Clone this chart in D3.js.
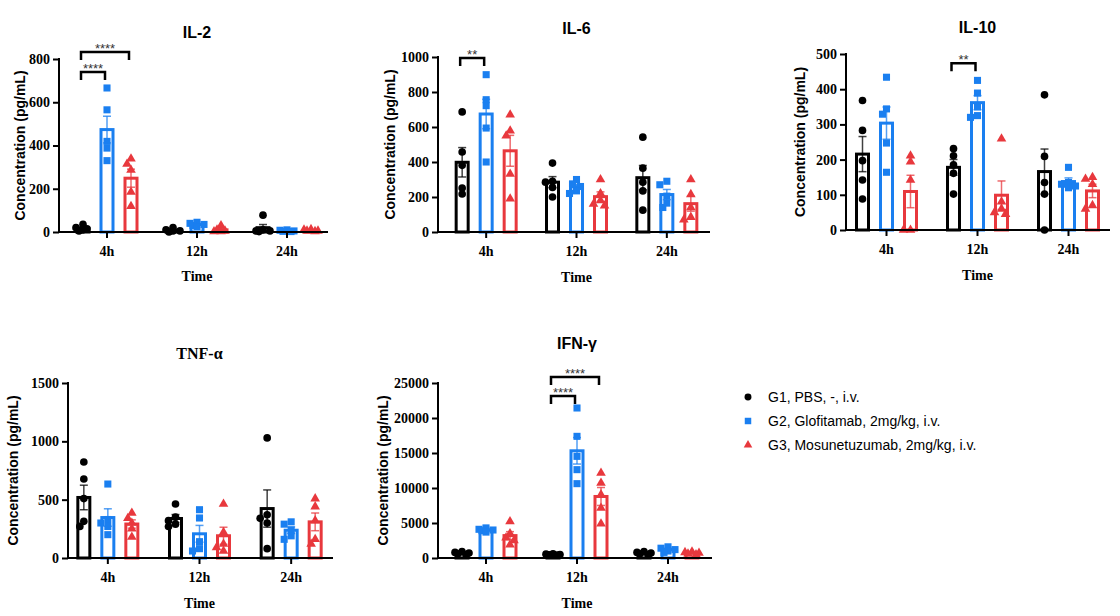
<!DOCTYPE html>
<html>
<head>
<meta charset="utf-8">
<script src="https://cdn.jsdelivr.net/npm/d3@7"></script>
<style>
  body { margin: 0; background: #fff; }
  svg { display: block; }
</style>
</head>
<body>
<div id="chart"></div>
<script>
"use strict";

//
/* Data */
//
var TIMES = ["4h", "12h", "24h"];
var GROUPS = ["G1, PBS, -, i.v.", "G2, Glofitamab, 2mg/kg, i.v.", "G3, Mosunetuzumab, 2mg/kg, i.v."];
var COLORS = ["#000000", "#1a7ff0", "#e8383d"];

// values[time][group] = 5 animals
var IL2_VALUES = [
    [[35, 20, 15, 10, 5], [666, 565, 419, 388, 330], [339, 314, 287, 185, 119]],
    [[20, 10, 5, 5, 0], [45, 40, 35, 30, 25], [30, 10, 5, 3, 2]],
    [[78, 10, 5, 5, 2], [10, 8, 5, 3, 2], [12, 10, 5, 5, 3]]
];
var IL6_VALUES = [
    [[686, 457, 381, 251, 217], [899, 756, 722, 594, 400], [670, 579, 550, 331, 190]],
    [[394, 290, 285, 255, 200], [300, 275, 260, 235, 220], [300, 220, 180, 160, 150]],
    [[542, 365, 285, 235, 125], [290, 270, 205, 165, 140], [300, 215, 140, 85, 70]]
];
var IL10_VALUES = [
    [[368, 283, 197, 142, 88], [434, 344, 329, 247, 164], [211, 194, 142, 0, 0]],
    [[231, 211, 185, 161, 102], [425, 389, 350, 325, 320], [259, 80, 60, 50, 45]],
    [[384, 209, 135, 102, 0], [178, 135, 130, 125, 120], [150, 145, 130, 70, 60]]
];
var TNF_VALUES = [
    [[823, 677, 509, 314, 271], [634, 330, 300, 270, 200], [386, 340, 300, 250, 180]],
    [[463, 350, 320, 290, 270], [414, 343, 140, 80, 60], [463, 220, 120, 90, 60]],
    [[1029, 370, 340, 300, 80], [310, 290, 240, 190, 160], [509, 440, 320, 160, 120]]
];
var IFN_VALUES = [
    [[900, 800, 700, 600, 500], [4300, 4100, 4000, 3900, 3700], [5200, 3500, 2900, 2500, 1900]],
    [[600, 550, 500, 450, 400], [21430, 17380, 14520, 12620, 10620], [12140, 10710, 9050, 7140, 4900]],
    [[900, 800, 700, 600, 500], [1600, 1400, 1200, 1000, 800], [900, 800, 700, 600, 500]]
];

var IL2_TICKS = [0, 200, 400, 600, 800];
var IL6_TICKS = [0, 200, 400, 600, 800, 1000];
var IL10_TICKS = [0, 100, 200, 300, 400, 500];
var TNF_TICKS = [0, 500, 1000, 1500];
var IFN_TICKS = [0, 5000, 10000, 15000, 20000, 25000];

// significance brackets: time, from group, to group, height (data units), label
var IL2_SIG = [
    { time: "4h", from: 0, to: 1, y: 740, label: "****" },
    { time: "4h", from: 0, to: 2, y: 832, label: "****" }
];
var IL6_SIG = [{ time: "4h", from: 0, to: 1, y: 994, label: "**" }];
var IL10_SIG = [{ time: "12h", from: 0, to: 1, y: 474, label: "**" }];
var TNF_SIG = [];
var IFN_SIG = [
    { time: "12h", from: 0, to: 1, y: 23140, label: "****" },
    { time: "12h", from: 0, to: 2, y: 25860, label: "****" }
];

//
/* Layout */
//
var WIDTH = 1120, HEIGHT = 616;
var SANS = "'Liberation Sans', Arial, sans-serif";
var SERIF = "'Liberation Serif', 'Times New Roman', serif";

var panels = [
    { title: "IL-2", titleFont: SANS, values: IL2_VALUES, ticks: IL2_TICKS, sig: IL2_SIG,
      left: 59, right: 328, top: 59, bottom: 232, band: [62, 332], titleY: 38, labelX: 25, timeY: 281 },
    { title: "IL-6", titleFont: SANS, values: IL6_VALUES, ticks: IL6_TICKS, sig: IL6_SIG,
      left: 438, right: 710, top: 57, bottom: 232, band: [441, 712], titleY: 34, labelX: 395, timeY: 282 },
    { title: "IL-10", titleFont: SANS, values: IL10_VALUES, ticks: IL10_TICKS, sig: IL10_SIG,
      left: 846, right: 1110, top: 54, bottom: 230, band: [841, 1114], titleY: 33, labelX: 805, timeY: 280 },
    { title: "TNF-\u03b1", titleFont: SERIF, values: TNF_VALUES, ticks: TNF_TICKS, sig: TNF_SIG,
      left: 68, right: 333, top: 383, bottom: 558, band: [62, 337], titleY: 359, labelX: 18, timeY: 608 },
    { title: "IFN-\u03b3", titleFont: SANS, values: IFN_VALUES, ticks: IFN_TICKS, sig: IFN_SIG,
      left: 438, right: 712, top: 383, bottom: 558, band: [440.5, 713.5], titleY: 349, labelX: 388, timeY: 608 }
];

var SYMBOLS = [d3.symbolCircle, d3.symbolSquare, d3.symbolTriangle];
var SYMBOL_SIZE = [46, 50, 40];

var svg = d3.select("#chart").append("svg")
    .attr("width", WIDTH)
    .attr("height", HEIGHT);

function mean(a) { return d3.mean(a); }
function sem(a) { return d3.deviation(a) / Math.sqrt(a.length); }

// simple dodge so points at similar heights spread sideways (kept tight, like prism)
function dodge(vals, y)
{
    var placed = [];
    var offsets = [0, -4, 4, -7, 7];
    var sorted = vals.map(function(v, i) { return { v: v, i: i }; })
                     .sort(function(a, b) { return b.v - a.v; });
    sorted.forEach(function(p)
    {
        var py = y(p.v);
        var best = 0, bestDist = -1;
        for (var k = 0; k < offsets.length; k++)
        {
            var dmin = d3.min(placed, function(q)
            {
                var dx = q.dx - offsets[k], dy = q.y - py;
                return Math.sqrt(dx * dx + dy * dy);
            });
            if (dmin === undefined || dmin > 5.5) { best = offsets[k]; bestDist = 99; break; }
            if (dmin > bestDist) { bestDist = dmin; best = offsets[k]; }
        }
        placed.push({ v: p.v, y: py, dx: best });
    });
    return placed;
}

function drawPanel(p)
{
    var g = svg.append("g");

    var y = d3.scaleLinear()
        .domain([p.ticks[0], p.ticks[p.ticks.length - 1]])
        .range([p.bottom, p.top]);

    var x = d3.scaleBand()
        .domain(TIMES)
        .range(p.band);

    var inner = d3.scaleBand()
        .domain([0, 1, 2])
        .range([-36, 36]);

    var barW = 12;

    function cx(t, gi) { return x(t) + x.bandwidth() / 2 + inner(gi) + inner.bandwidth() / 2; }

    // bars
    TIMES.forEach(function(t, ti)
    {
        p.values[ti].forEach(function(vals, gi)
        {
            var m = mean(vals), s = sem(vals);
            var c = cx(t, gi);

            g.append("rect")
                .attr("x", c - barW / 2)
                .attr("y", y(m))
                .attr("width", barW)
                .attr("height", Math.max(0, y(0) - y(m)))
                .attr("fill", "#fff")
                .attr("stroke", COLORS[gi])
                .attr("stroke-width", 3);

            // error bar (mean +/- SEM)
            var eb = g.append("g")
                .attr("stroke", COLORS[gi])
                .attr("stroke-opacity", 0.75)
                .attr("stroke-width", 1.5);
            eb.append("line")
                .attr("x1", c).attr("x2", c)
                .attr("y1", y(Math.max(0, m - s))).attr("y2", y(m + s));
            eb.append("line")
                .attr("x1", c - 4).attr("x2", c + 4)
                .attr("y1", y(m + s)).attr("y2", y(m + s));
            if (m - s > 0)
                eb.append("line")
                    .attr("x1", c - 4).attr("x2", c + 4)
                    .attr("y1", y(m - s)).attr("y2", y(m - s));
        });
    });

    // points
    TIMES.forEach(function(t, ti)
    {
        p.values[ti].forEach(function(vals, gi)
        {
            var c = cx(t, gi);
            var pts = dodge(vals, y);
            g.selectAll(null)
                .data(pts)
                .enter()
                .append("path")
                .attr("d", d3.symbol().type(SYMBOLS[gi]).size(SYMBOL_SIZE[gi]))
                .attr("transform", function(d) { return "translate(" + (c + d.dx) + "," + d.y + ")"; })
                .attr("fill", COLORS[gi]);
        });
    });

    // axes
    var yAxis = d3.axisLeft(y)
        .tickValues(p.ticks)
        .tickFormat(d3.format("d"))
        .tickSizeOuter(0)
        .tickSize(6)
        .tickPadding(3);

    var ya = g.append("g")
        .attr("transform", "translate(" + p.left + ",0)")
        .call(yAxis);
    ya.select(".domain").remove();
    ya.append("line")
        .attr("x1", 0).attr("x2", 0)
        .attr("y1", p.top - 1).attr("y2", p.bottom + 1)
        .attr("stroke", "#000").attr("stroke-width", 2);
    ya.selectAll(".tick line").attr("stroke-width", 2);
    ya.selectAll(".tick text")
        .style("font-family", SERIF)
        .style("font-weight", "bold")
        .style("font-size", "14px")
        .attr("fill", "#000");

    var xAxis = d3.axisBottom(x)
        .tickSizeOuter(0)
        .tickSize(6)
        .tickPadding(8);

    var xa = g.append("g")
        .attr("transform", "translate(0," + p.bottom + ")")
        .call(xAxis);
    xa.select(".domain").remove();
    xa.append("line")
        .attr("x1", p.left).attr("x2", p.right)
        .attr("y1", 0).attr("y2", 0)
        .attr("stroke", "#000").attr("stroke-width", 2);
    xa.selectAll(".tick line").attr("stroke-width", 2);
    xa.selectAll(".tick text")
        .style("font-family", SERIF)
        .style("font-weight", "bold")
        .style("font-size", "14px")
        .attr("fill", "#000");

    var midX = (p.band[0] + p.band[1]) / 2;

    // titles
    g.append("text")
        .attr("x", midX)
        .attr("y", p.titleY)
        .attr("text-anchor", "middle")
        .style("font-family", p.titleFont)
        .style("font-weight", "bold")
        .style("font-size", "16px")
        .text(p.title);

    g.append("text")
        .attr("transform", "translate(" + p.labelX + "," + ((p.top + p.bottom) / 2) + ") rotate(-90)")
        .attr("text-anchor", "middle")
        .style("font-family", SANS)
        .style("font-weight", "bold")
        .style("font-size", "14px")
        .text("Concentration (pg/mL)");

    g.append("text")
        .attr("x", midX)
        .attr("y", p.timeY)
        .attr("text-anchor", "middle")
        .style("font-family", SERIF)
        .style("font-weight", "bold")
        .style("font-size", "14px")
        .text("Time");

    // significance brackets
    p.sig.forEach(function(s)
    {
        var x1 = cx(s.time, s.from) - 2, x2 = cx(s.time, s.to) - 2;
        var by = y(s.y);
        g.append("path")
            .attr("d", "M" + x1 + "," + (by + 8) + "V" + by + "H" + x2 + "V" + (by + 8))
            .attr("fill", "none")
            .attr("stroke", "#000")
            .attr("stroke-width", 2.5);
        g.append("text")
            .attr("x", (x1 + x2) / 2)
            .attr("y", by + 1)
            .attr("text-anchor", "middle")
            .style("font-family", SANS)
            .style("font-size", "13px")
            .attr("fill", "#333")
            .text(s.label);
    });
}

panels.forEach(drawPanel);

// legend
var legend = svg.append("g")
    .attr("transform", "translate(748,397)");

legend.selectAll(".item")
    .data(GROUPS)
    .enter()
    .append("g")
    .attr("class", "item")
    .attr("transform", function(d, i) { return "translate(0," + (i * 24) + ")"; })
    .each(function(d, i)
    {
        var it = d3.select(this);
        it.append("path")
            .attr("d", d3.symbol().type(SYMBOLS[i]).size(SYMBOL_SIZE[i] - 8))
            .attr("fill", COLORS[i]);
        it.append("text")
            .attr("x", 20)
            .attr("y", 5)
            .style("font-family", SANS)
            .style("font-size", "14px")
            .text(d);
    });
</script>
</body>
</html>
